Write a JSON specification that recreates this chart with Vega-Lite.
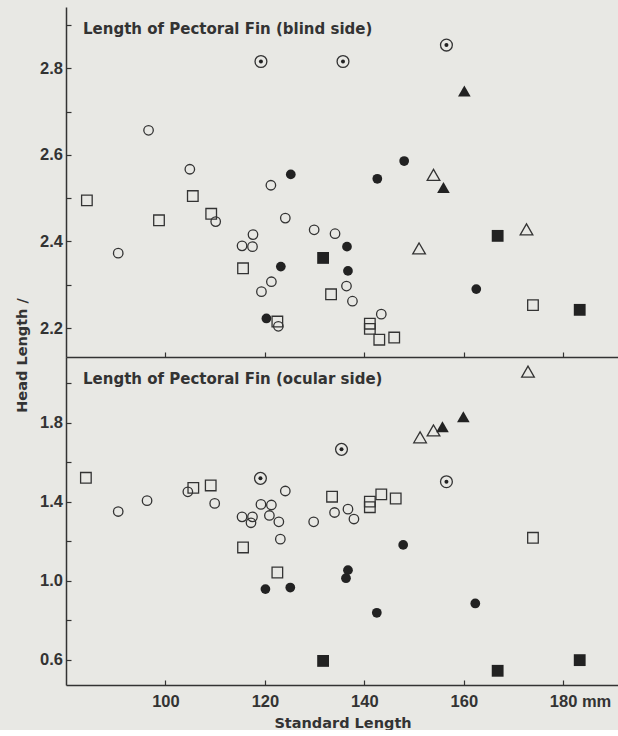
{
  "$schema": "https://vega.github.io/schema/vega-lite/v6.json",
  "background": "#e8e8e4",
  "padding": {"left": 14, "top": 7, "right": 0, "bottom": 0},
  "bounds": "flush",
  "spacing": 0,
  "config": {
    "view": {"stroke": null},
    "axis": {
      "domainColor": "#333", "domainWidth": 1.5, "tickColor": "#333", "tickWidth": 1.2,
      "grid": false, "labelColor": "#333", "titleColor": "#333",
      "labelFont": "Liberation Sans", "labelFontSize": 16.5, "labelFontWeight": "bold",
      "titleFont": "DejaVu Sans", "titleFontSize": 14.5, "titleFontWeight": "bold"
    },
    "title": {"font": "DejaVu Sans", "fontSize": 15, "fontWeight": "bold", "color": "#333"}
  },
  "datasets": {
    "blind": [
      {"sl": 96.6, "r": 2.657, "s": "oc"}, {"sl": 90.5, "r": 2.373, "s": "oc"}, {"sl": 104.9, "r": 2.567, "s": "oc"},
      {"sl": 110.1, "r": 2.446, "s": "oc"}, {"sl": 121.2, "r": 2.53, "s": "oc"}, {"sl": 124.1, "r": 2.454, "s": "oc"},
      {"sl": 117.6, "r": 2.416, "s": "oc"}, {"sl": 115.4, "r": 2.39, "s": "oc"}, {"sl": 117.5, "r": 2.388, "s": "oc"},
      {"sl": 129.9, "r": 2.427, "s": "oc"}, {"sl": 134.1, "r": 2.418, "s": "oc"}, {"sl": 121.3, "r": 2.307, "s": "oc"},
      {"sl": 119.3, "r": 2.284, "s": "oc"}, {"sl": 136.4, "r": 2.297, "s": "oc"}, {"sl": 137.6, "r": 2.262, "s": "oc"},
      {"sl": 143.4, "r": 2.232, "s": "oc"}, {"sl": 122.7, "r": 2.204, "s": "oc"},
      {"sl": 125.2, "r": 2.555, "s": "fc"}, {"sl": 148.0, "r": 2.586, "s": "fc"}, {"sl": 142.6, "r": 2.545, "s": "fc"},
      {"sl": 136.5, "r": 2.388, "s": "fc"}, {"sl": 123.2, "r": 2.342, "s": "fc"}, {"sl": 136.7, "r": 2.332, "s": "fc"},
      {"sl": 120.3, "r": 2.222, "s": "fc"}, {"sl": 162.5, "r": 2.29, "s": "fc"},
      {"sl": 119.2, "r": 2.816, "s": "dc"}, {"sl": 135.7, "r": 2.816, "s": "dc"}, {"sl": 156.5, "r": 2.854, "s": "dc"},
      {"sl": 84.2, "r": 2.495, "s": "os"}, {"sl": 105.5, "r": 2.505, "s": "os"}, {"sl": 98.7, "r": 2.449, "s": "os"},
      {"sl": 109.2, "r": 2.464, "s": "os"}, {"sl": 115.6, "r": 2.338, "s": "os"}, {"sl": 133.3, "r": 2.278, "s": "os"},
      {"sl": 122.5, "r": 2.215, "s": "os"}, {"sl": 141.1, "r": 2.21, "s": "os"}, {"sl": 141.1, "r": 2.198, "s": "os"},
      {"sl": 143.0, "r": 2.173, "s": "os"}, {"sl": 146.0, "r": 2.178, "s": "os"}, {"sl": 173.9, "r": 2.253, "s": "os"},
      {"sl": 131.7, "r": 2.362, "s": "fs"}, {"sl": 166.8, "r": 2.413, "s": "fs"}, {"sl": 183.3, "r": 2.242, "s": "fs"},
      {"sl": 153.9, "r": 2.554, "s": "ot"}, {"sl": 151.0, "r": 2.384, "s": "ot"}, {"sl": 172.6, "r": 2.428, "s": "ot"},
      {"sl": 160.1, "r": 2.748, "s": "ft"}, {"sl": 155.9, "r": 2.525, "s": "ft"}
    ],
    "ocular": [
      {"sl": 172.9, "r": 2.059, "s": "ot"}, {"sl": 151.2, "r": 1.726, "s": "ot"}, {"sl": 153.9, "r": 1.761, "s": "ot"},
      {"sl": 155.7, "r": 1.78, "s": "ft"}, {"sl": 159.9, "r": 1.83, "s": "ft"},
      {"sl": 135.4, "r": 1.665, "s": "dc"}, {"sl": 119.1, "r": 1.518, "s": "dc"}, {"sl": 156.5, "r": 1.501, "s": "dc"},
      {"sl": 84.0, "r": 1.521, "s": "os"}, {"sl": 105.6, "r": 1.47, "s": "os"}, {"sl": 109.1, "r": 1.482, "s": "os"},
      {"sl": 133.5, "r": 1.425, "s": "os"}, {"sl": 141.1, "r": 1.4, "s": "os"}, {"sl": 141.1, "r": 1.372, "s": "os"},
      {"sl": 143.4, "r": 1.437, "s": "os"}, {"sl": 146.3, "r": 1.416, "s": "os"}, {"sl": 115.6, "r": 1.168, "s": "os"},
      {"sl": 122.5, "r": 1.041, "s": "os"}, {"sl": 173.9, "r": 1.217, "s": "os"},
      {"sl": 90.5, "r": 1.35, "s": "oc"}, {"sl": 96.3, "r": 1.405, "s": "oc"}, {"sl": 104.5, "r": 1.45, "s": "oc"},
      {"sl": 109.9, "r": 1.391, "s": "oc"}, {"sl": 115.4, "r": 1.323, "s": "oc"}, {"sl": 117.5, "r": 1.323, "s": "oc"},
      {"sl": 117.2, "r": 1.293, "s": "oc"}, {"sl": 119.2, "r": 1.386, "s": "oc"}, {"sl": 121.3, "r": 1.383, "s": "oc"},
      {"sl": 120.9, "r": 1.33, "s": "oc"}, {"sl": 124.1, "r": 1.454, "s": "oc"}, {"sl": 122.8, "r": 1.298, "s": "oc"},
      {"sl": 123.1, "r": 1.21, "s": "oc"}, {"sl": 129.8, "r": 1.298, "s": "oc"}, {"sl": 134.0, "r": 1.345, "s": "oc"},
      {"sl": 136.7, "r": 1.362, "s": "oc"}, {"sl": 137.9, "r": 1.312, "s": "oc"},
      {"sl": 120.1, "r": 0.957, "s": "fc"}, {"sl": 125.1, "r": 0.965, "s": "fc"}, {"sl": 136.7, "r": 1.053, "s": "fc"},
      {"sl": 136.3, "r": 1.012, "s": "fc"}, {"sl": 147.8, "r": 1.181, "s": "fc"}, {"sl": 142.5, "r": 0.837, "s": "fc"},
      {"sl": 162.3, "r": 0.884, "s": "fc"},
      {"sl": 131.7, "r": 0.593, "s": "fs"}, {"sl": 166.8, "r": 0.543, "s": "fs"}, {"sl": 183.3, "r": 0.597, "s": "fs"}
    ]
  },
  "vconcat": [
    {
      "width": 553, "height": 350,
      "data": {"name": "blind"},
      "title": {"text": "Length of Pectoral Fin (blind side)", "anchor": "start", "frame": "group", "offset": -42, "dx": 17, "baseline": "alphabetic"},
      "encoding": {
        "x": {"field": "sl", "type": "quantitative", "scale": {"domain": [80, 191.2], "nice": false, "zero": false},
              "axis": {"values": [100, 120, 140, 160, 180], "labels": false, "title": null, "tickSize": -5}},
        "y": {"field": "r", "type": "quantitative", "scale": {"domain": [2.133, 2.942], "nice": false, "zero": false},
              "axis": {"values": [2.2, 2.3, 2.4, 2.5, 2.6, 2.7, 2.8, 2.9], "format": ".1f", "tickSize": -5, "labelPadding": 8.5,
                       "labelExpr": "round(datum.value*10) % 2 == 0 ? datum.label : ''",
                       "title": "Head Length /", "titleX": -44, "titleY": 348, "titleBaseline": "middle", "titleAngle": 270}}
      },
      "layer": [
        {"transform": [{"filter": "datum.s == 'oc'"}], "mark": {"type": "point", "shape": "circle", "filled": false, "size": 90, "strokeWidth": 1.3, "color": "#333", "opacity": 1}},
        {"transform": [{"filter": "datum.s == 'dc'"}], "mark": {"type": "point", "shape": "circle", "filled": false, "size": 140, "strokeWidth": 1.3, "color": "#333", "opacity": 1}},
        {"transform": [{"filter": "datum.s == 'dc'"}], "mark": {"type": "point", "shape": "circle", "filled": true, "size": 16, "color": "#222", "opacity": 1}},
        {"transform": [{"filter": "datum.s == 'fc'"}], "mark": {"type": "point", "shape": "circle", "filled": true, "size": 95, "color": "#222", "opacity": 1}},
        {"transform": [{"filter": "datum.s == 'os'"}], "mark": {"type": "point", "shape": "square", "filled": false, "size": 112, "strokeWidth": 1.3, "color": "#333", "opacity": 1}},
        {"transform": [{"filter": "datum.s == 'fs'"}], "mark": {"type": "point", "shape": "square", "filled": true, "size": 140, "color": "#222", "opacity": 1}},
        {"transform": [{"filter": "datum.s == 'ot'"}], "mark": {"type": "point", "shape": "triangle-up", "filled": false, "size": 160, "strokeWidth": 1.3, "color": "#333", "opacity": 1}},
        {"transform": [{"filter": "datum.s == 'ft'"}], "mark": {"type": "point", "shape": "triangle-up", "filled": true, "size": 160, "color": "#222", "opacity": 1}}
      ]
    },
    {
      "width": 553, "height": 328,
      "data": {"name": "ocular"},
      "title": {"text": "Length of Pectoral Fin (ocular side)", "anchor": "start", "frame": "group", "offset": -42, "dx": 17, "baseline": "alphabetic"},
      "encoding": {
        "x": {"field": "sl", "type": "quantitative", "scale": {"domain": [80, 191.2], "nice": false, "zero": false},
              "axis": {"values": [100, 120, 140, 160, 180], "tickSize": -5, "labelPadding": 13,
                       "labelExpr": "datum.value == 180 ? '180 mm' : datum.label",
                       "labelAlign": {"condition": {"test": "datum.value == 180", "value": "left"}, "value": "center"},
                       "labelOffset": {"condition": {"test": "datum.value == 180", "value": -14}, "value": 0},
                       "title": "Standard Length", "titlePadding": 7}},
        "y": {"field": "r", "type": "quantitative", "scale": {"domain": [0.471, 2.133], "nice": false, "zero": false},
              "axis": {"values": [0.6, 0.8, 1.0, 1.2, 1.4, 1.6, 1.8, 2.0], "format": ".1f", "tickSize": -5, "labelPadding": 8.5,
                       "labelExpr": "round(datum.value*10) % 4 == 2 ? datum.label : ''", "title": null}}
      },
      "layer": [
        {"transform": [{"filter": "datum.s == 'oc'"}], "mark": {"type": "point", "shape": "circle", "filled": false, "size": 90, "strokeWidth": 1.3, "color": "#333", "opacity": 1}},
        {"transform": [{"filter": "datum.s == 'dc'"}], "mark": {"type": "point", "shape": "circle", "filled": false, "size": 140, "strokeWidth": 1.3, "color": "#333", "opacity": 1}},
        {"transform": [{"filter": "datum.s == 'dc'"}], "mark": {"type": "point", "shape": "circle", "filled": true, "size": 16, "color": "#222", "opacity": 1}},
        {"transform": [{"filter": "datum.s == 'fc'"}], "mark": {"type": "point", "shape": "circle", "filled": true, "size": 95, "color": "#222", "opacity": 1}},
        {"transform": [{"filter": "datum.s == 'os'"}], "mark": {"type": "point", "shape": "square", "filled": false, "size": 112, "strokeWidth": 1.3, "color": "#333", "opacity": 1}},
        {"transform": [{"filter": "datum.s == 'fs'"}], "mark": {"type": "point", "shape": "square", "filled": true, "size": 140, "color": "#222", "opacity": 1}},
        {"transform": [{"filter": "datum.s == 'ot'"}], "mark": {"type": "point", "shape": "triangle-up", "filled": false, "size": 160, "strokeWidth": 1.3, "color": "#333", "opacity": 1}},
        {"transform": [{"filter": "datum.s == 'ft'"}], "mark": {"type": "point", "shape": "triangle-up", "filled": true, "size": 160, "color": "#222", "opacity": 1}}
      ]
    }
  ]
}
